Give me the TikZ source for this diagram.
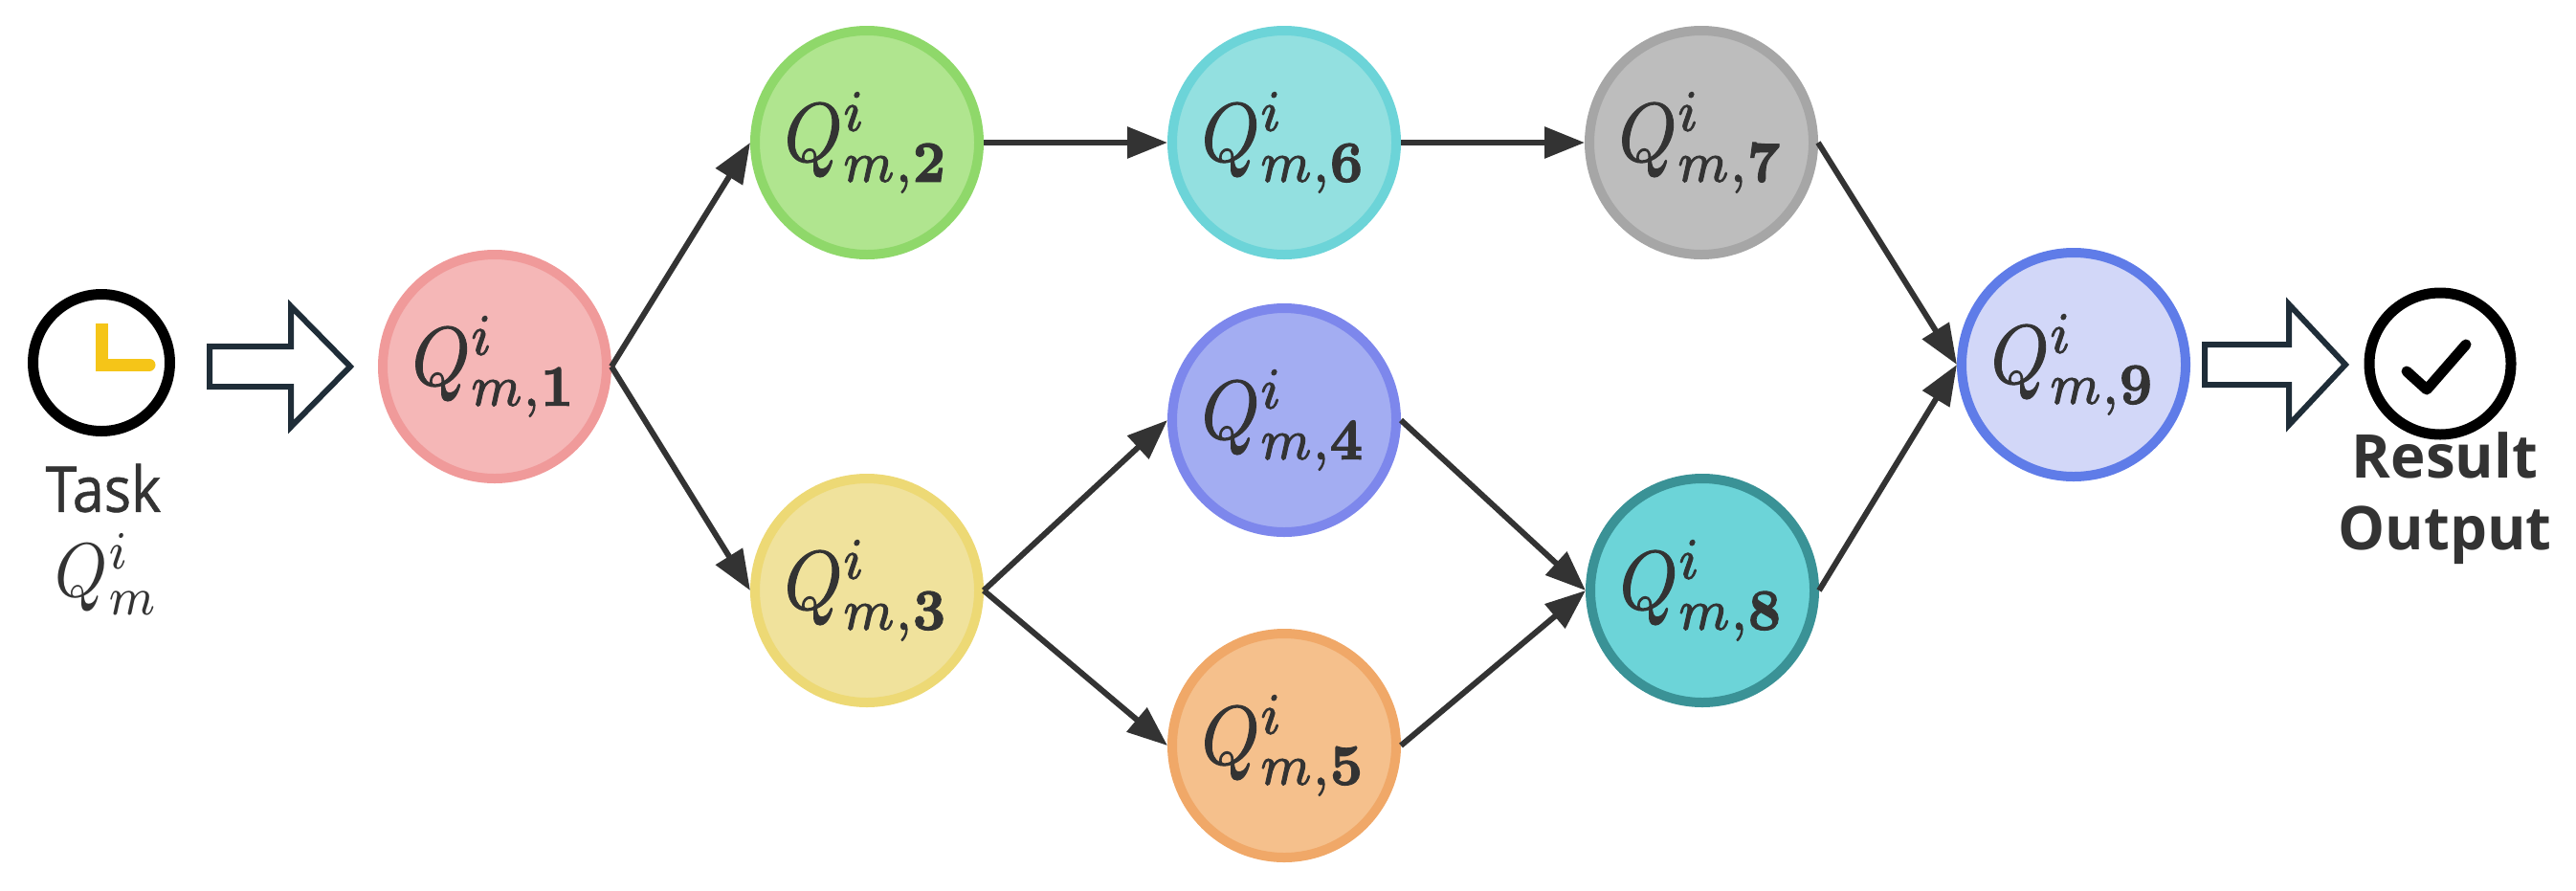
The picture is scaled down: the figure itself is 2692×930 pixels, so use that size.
\documentclass[tikz,border=0pt]{standalone}
\usepackage{graphicx}
\usepackage[no-math]{fontspec}
\setmainfont{Open Sans}
\newfontfamily\tasklabel[FakeStretch=0.9,FakeBold=0.8]{Open Sans}
\newfontfamily\resultlabel[FakeStretch=0.98]{Open Sans}
\usetikzlibrary{arrows.meta}
\definecolor{ink}{HTML}{333333}
\definecolor{hollow}{HTML}{1F2D38}
\definecolor{Fa}{HTML}{F5B7B7}\definecolor{Sa}{HTML}{F09A9A}
\definecolor{Fb}{HTML}{B0E58F}\definecolor{Sb}{HTML}{8FD86A}
\definecolor{Fc}{HTML}{F0E29C}\definecolor{Sc}{HTML}{EDD975}
\definecolor{Fd}{HTML}{A3ADF2}\definecolor{Sd}{HTML}{7D87EC}
\definecolor{Fe}{HTML}{F5C08C}\definecolor{Se}{HTML}{F0A868}
\definecolor{Ff}{HTML}{93E0E0}\definecolor{Sf}{HTML}{6CD4D8}
\definecolor{Fg}{HTML}{BDBDBD}\definecolor{Sg}{HTML}{A6A6A6}
\definecolor{Fh}{HTML}{6CD4D8}\definecolor{Sh}{HTML}{3A9296}
\definecolor{Fi}{HTML}{D2D7F8}\definecolor{Si}{HTML}{5F7CE8}
\definecolor{clockhand}{HTML}{F5C518}
\tikzset{
  x=1pt,y=-1pt,
  qnode/.style={circle,minimum size=234pt,inner sep=0pt,line width=10pt,text=ink},
  link/.style={line width=6pt,draw=ink,-{Triangle[length=42pt,width=32pt]}},
  big/.style={draw=hollow,line width=6pt,fill=white,line join=miter},
  icon/.style={circle,draw=black,line width=11pt,fill=white,inner sep=0pt},
  lab/.style={text=ink,inner sep=0pt,font=\tasklabel\fontsize{66}{70}\selectfont},
  labb/.style={text=ink,inner sep=0pt,font=\resultlabel\fontsize{63}{70}\selectfont\bfseries}
}
\newcommand{\qlab}[1]{\raisebox{-7pt}{\scalebox{7.7}[8.7]{\special{pdf:code 2 Tr 0.12 w}$Q^{i}_{m\mathbf{,#1}}$\special{pdf:code 0 Tr}}}}
\begin{document}
\begin{tikzpicture}
\useasboundingbox (0,0) rectangle (2692,930);
% hollow arrows
\draw[big] (219,362) -- (304,362) -- (304,320) -- (366,383) -- (304,446) -- (304,404) -- (219,404) -- cycle;
\draw[big] (2304,360) -- (2392,360) -- (2392,318) -- (2451,381) -- (2392,444) -- (2392,402) -- (2304,402) -- cycle;
% nodes
\node[qnode,fill=Fa,draw=Sa] (n1) at (517,383) {\qlab{1}};
\node[qnode,fill=Fb,draw=Sb] (n2) at (906,149) {\qlab{2}};
\node[qnode,fill=Fc,draw=Sc] (n3) at (906,617) {\qlab{3}};
\node[qnode,fill=Fd,draw=Sd] (n4) at (1342,439) {\qlab{4}};
\node[qnode,fill=Fe,draw=Se] (n5) at (1342,779) {\qlab{5}};
\node[qnode,fill=Ff,draw=Sf] (n6) at (1342,149) {\qlab{6}};
\node[qnode,fill=Fg,draw=Sg] (n7) at (1778,149) {\qlab{7}};
\node[qnode,fill=Fh,draw=Sh] (n8) at (1779,617) {\qlab{8}};
\node[qnode,fill=Fi,draw=Si] (n9) at (2167,381) {\qlab{9}};
% connectors
\draw[link] (n1.east) -- (n2.west);
\draw[link] (n1.east) -- (n3.west);
\draw[link] (n2.east) -- (n6.west);
\draw[link] (n6.east) -- (n7.west);
\draw[link] (n3.east) -- (n4.west);
\draw[link] (n3.east) -- (n5.west);
\draw[link] (n4.east) -- (n8.west);
\draw[link] (n5.east) -- (n8.west);
\draw[link] (n7.east) -- (n9.west);
\draw[link] (n8.east) -- (n9.west);
% clock icon
\node[icon,minimum size=143pt] (clock) at (106,379) {};
\draw[clockhand,line width=13pt,line cap=butt] (106,338) -- (106,381) -- (155,381);
\draw[clockhand,line width=13pt,line cap=round] (155,381) -- (156,381);
\node[lab] (task) at (108,510) {Task};
\node[inner sep=0pt,text=ink] (qm) at (112,600) {\scalebox{7}[8]{$Q^{i}_{m}$}};
% result icon
\node[icon,minimum size=148pt] (done) at (2550,380) {};
\draw[black,line width=11pt,line cap=round,line join=round] (2515,388) -- (2536,407) -- (2577,360);
\node[labb] (res) at (2555,476) {Result};
\node[labb] (out) at (2555,559) {Output};
\end{tikzpicture}
\end{document}
